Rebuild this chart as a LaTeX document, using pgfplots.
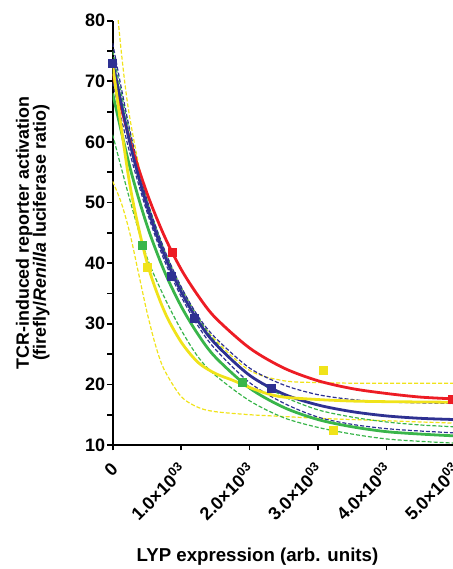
\documentclass[border=0pt]{standalone}
\usepackage{fontspec}
\setmainfont{Liberation Sans}
\usepackage{pgfplots}
\pgfplotsset{compat=1.18}
\definecolor{fitred}{RGB}{237,28,36}
\definecolor{fitblue}{RGB}{46,49,146}
\definecolor{fitgreen}{RGB}{57,181,74}
\definecolor{fityellow}{RGB}{240,227,26}

\begin{document}
\begin{tikzpicture}
\path[use as bounding box, clip] (-84.5pt,-93pt) rectangle (255.2pt,333.75pt);
\begin{axis}[
  scale only axis,
  width=256.7pt, height=318.2pt,
  xmin=0, xmax=5000, ymin=10, ymax=80,
  axis lines=left,
  axis line style={line width=1.5pt, -},
  xtick={0,1000,2000,3000,4000,5000},
  xticklabels={0,1.0×10\textsuperscript{03},2.0×10\textsuperscript{03},3.0×10\textsuperscript{03},4.0×10\textsuperscript{03},5.0×10\textsuperscript{03}},
  ytick={10,20,...,80},
  minor ytick={15,25,...,75},
  tick align=outside,
  major tick length=4pt, minor tick length=4pt,
  every tick/.style={black, line width=1.3pt},
  /pgf/number format/assume math mode=true,
  tick label style={font=\fontsize{13.5}{15}\selectfont\bfseries},
  x tick label style={yshift=-12pt, xshift=1.5pt, rotate=45, anchor=east, inner sep=0pt},
  y tick label style={inner sep=1.5pt},
  every axis x label/.style={at={(axis cs:2115,10)}, anchor=center, yshift=-84pt,
    font=\fontsize{14}{16}\selectfont\bfseries},
  every axis y label/.style={at={(rel axis cs:0,0.5)}, xshift=-60pt, rotate=90,
    anchor=center, align=center, font=\fontsize{13.4}{12.8}\selectfont\bfseries},
  xlabel={LYP expression (arb. units)},
  ylabel={TCR-induced reporter activation\\(firefly/\textit{Renilla} luciferase ratio)},
  dashfit/.style={line width=0.9pt, dash pattern=on 3pt off 1.5pt, smooth},
  solidfit/.style={line width=2.1pt, smooth},
]
% confidence bands
\addplot[dashfit, fityellow] coordinates {
  (0,90) (125,75) (250,64) (500,50) (750,42) (1000,36) (1250,31) (1500,27.3)
  (2000,22.3) (2500,20.6) (3000,20.3) (3500,20.2) (4000,20.2) (5000,20.2)};
\addplot[dashfit, fityellow] coordinates {
  (0,53.5) (125,50) (250,45) (375,38.5) (500,32) (625,26.5) (750,22.5) (1000,18)
  (1250,16.2) (1500,15.5) (2000,15.0) (2500,14.7) (3000,14.4) (3500,14.2)
  (4000,14.0) (4500,13.8) (5000,13.6)};
\addplot[dashfit, fitgreen] coordinates {
  (0,75.0) (250,61.5) (500,50.5) (750,42.3) (1000,36.0) (1250,31.0) (1500,27.0)
  (2000,21.5) (2500,18.0) (3000,15.8) (3500,14.6) (4000,13.8) (4500,13.3) (5000,13.0)};
\addplot[dashfit, fitgreen] coordinates {
  (0,61.2) (250,50.5) (500,41) (750,34.5) (1000,29) (1250,24.5) (1500,21.5)
  (2000,17.3) (2500,14.5) (3000,12.9) (3500,11.8) (4000,11.0) (4500,10.6) (5000,10.3)};
\addplot[dashfit, fitblue] coordinates {
  (0,76.3) (250,62.0) (500,50.5) (750,42.4) (1000,36.1) (1250,31.2) (1500,27.7)
  (2000,22.7) (2500,19.9) (3000,18.3) (3500,17.5) (4000,17.1) (4500,16.95) (5000,16.85)};
\addplot[dashfit, fitblue] coordinates {
  (0,69.8) (250,58.2) (500,48.5) (750,40.6) (1000,34.5) (1250,29.6) (1500,25.8)
  (2000,20.3) (2500,16.9) (3000,14.6) (3500,13.4) (4000,12.7) (4500,12.3) (5000,12.0)};
% fitted curves
\addplot[solidfit, fitred] coordinates {
  (0,71.2) (250,60.3) (500,51.6) (750,44.6) (1000,39.0) (1250,34.6) (1500,31.0)
  (2000,26.0) (2500,22.7) (3000,20.6) (3500,19.3) (4000,18.5) (4500,17.9) (5000,17.6)};
\addplot[solidfit, fitgreen] coordinates {
  (0,68.0) (250,55.9) (500,46.3) (750,38.8) (1000,32.9) (1250,28.2) (1500,24.5)
  (2000,19.4) (2500,16.2) (3000,14.2) (3500,13.0) (4000,12.2) (4500,11.8) (5000,11.5)};
\addplot[solidfit, fitblue] coordinates {
  (0,73.3) (250,59.9) (500,49.5) (750,41.5) (1000,35.3) (1250,30.4) (1500,26.7)
  (2000,21.5) (2500,18.4) (3000,16.6) (3500,15.5) (4000,14.8) (4500,14.4) (5000,14.2)};
\addplot[solidfit, fityellow] coordinates {
  (0,72.7) (250,53.0) (500,40.2) (750,32.2) (1000,27.0) (1250,23.6) (1500,21.8)
  (1750,20.7) (2000,19.5) (2250,18.5) (2500,17.9) (3000,17.5) (3500,17.25)
  (4000,17.15) (4500,17.1) (5000,17.05)};
% data points
\addplot[only marks, mark=square*, mark size=3pt, fitred] coordinates {
  (870,41.8) (4968,17.6)};
\addplot[only marks, mark=square*, mark size=3pt, fitgreen] coordinates {
  (432,42.9) (1892,20.3)};
\addplot[only marks, mark=square*, mark size=3pt, fityellow] coordinates {
  (511,39.4) (3080,22.3) (3220,12.5)};
\addplot[only marks, mark=square*, mark size=3pt, fitblue] coordinates {
  (0,73) (851,37.8) (1191,30.9) (2321,19.4)};
\end{axis}
\end{tikzpicture}
\end{document}
